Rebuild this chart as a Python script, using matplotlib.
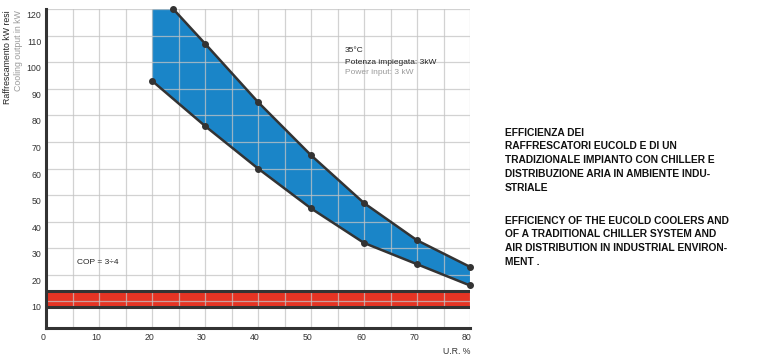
import numpy as np
import matplotlib
matplotlib.use("Agg")
import matplotlib.pyplot as plt
import matplotlib.transforms as mtransforms

# values
upper_x = [24, 30, 40, 50, 60, 70, 80]
upper_y = [120, 107, 85, 65, 47, 33, 23]
lower_x = [20, 30, 40, 50, 60, 70, 80]
lower_y = [93, 76, 60, 45, 32, 24, 16]
chiller_low = 8
chiller_high = 14
x_ticks = [0, 10, 20, 30, 40, 50, 60, 70, 80]
y_ticks = [10, 20, 30, 40, 50, 60, 70, 80, 90, 100, 110, 120]

dark = "#333333"
blue = "#1a85c8"
red = "#e53424"

plt.rcParams['font.family'] = ['Liberation Sans', 'DejaVu Sans']

fig = plt.figure(figsize=(7.61, 3.64), dpi=100)
ax = fig.add_axes([46 / 761, 1 - 328 / 364, 424 / 761, 319 / 364])
ax.set_xlim(0, 80)
ax.set_ylim(0, 120)

# blue band between the two curves, top clipped at the axis limit
poly_x = [lower_x[0]] + upper_x + lower_x[::-1]
poly_y = [upper_y[0]] + upper_y + lower_y[::-1]
ax.fill(poly_x, poly_y, color=blue, zorder=1, lw=0)
ax.plot(upper_x, upper_y, color=dark, lw=1.8, marker='o', ms=4, zorder=4, clip_on=False)
ax.plot(lower_x, lower_y, color=dark, lw=1.8, marker='o', ms=4, zorder=4, clip_on=False)

# red chiller band
ax.fill_between([0, 80], chiller_low, chiller_high, color=red, lw=0, zorder=1)
ax.hlines([chiller_low, chiller_high], 0, 80, color=dark, lw=2.2, zorder=4)

# grid drawn over the fills
for gx in np.arange(5, 81, 5):
    ax.axvline(gx, color="#c4c4c4", lw=0.9, alpha=0.75, zorder=2)
for gy in y_ticks:
    ax.axhline(gy, color="#c4c4c4", lw=0.9, alpha=0.75, zorder=2)

ax.set_xticks(x_ticks)
ax.set_yticks(y_ticks)
ax.tick_params(length=0, labelsize=6.3, colors="#333333", pad=3.5)
for lab in ax.get_yticklabels():
    lab.set_transform(lab.get_transform() + mtransforms.ScaledTranslation(0, -0.055, fig.dpi_scale_trans))
for lab in ax.get_xticklabels():
    lab.set_transform(lab.get_transform() + mtransforms.ScaledTranslation(-0.03, 0, fig.dpi_scale_trans))

for side in ['top', 'right']:
    ax.spines[side].set_visible(False)
for side in ['left', 'bottom']:
    ax.spines[side].set_color(dark)
    ax.spines[side].set_linewidth(2.2)
    ax.spines[side].set_zorder(5)

# annotations
fig.text(345 / 761, 1 - 50.5 / 364, "35°C", fontsize=6, color="#222222", va='center')
fig.text(345 / 761, 1 - 63 / 364, "Potenza impiegata: 3kW", fontsize=6, color="#222222", va='center')
fig.text(345 / 761, 1 - 73 / 364, "Power input: 3 kW", fontsize=6, color="#9a9a9a", va='center')
fig.text(77 / 761, 1 - 262 / 364, "COP = 3÷4", fontsize=6, color="#222222", va='center')
fig.text(470 / 761, 1 - 351 / 364, "U.R. %", fontsize=6.3, color="#333333", va='center', ha='right')

fig.text(8 / 761, 1 - 10 / 364, "Raffrescamento kW resi", fontsize=6.3, color="#222222",
         rotation=90, ha='center', va='top')
fig.text(18.5 / 761, 1 - 10 / 364, "Cooling output in kW", fontsize=6.3, color="#9a9a9a",
         rotation=90, ha='center', va='top')

block_it = ("EFFICIENZA DEI\n"
            "RAFFRESCATORI EUCOLD E DI UN\n"
            "TRADIZIONALE IMPIANTO CON CHILLER E\n"
            "DISTRIBUZIONE ARIA IN AMBIENTE INDU-\n"
            "STRIALE")
block_en = ("EFFICIENCY OF THE EUCOLD COOLERS AND\n"
            "OF A TRADITIONAL CHILLER SYSTEM AND\n"
            "AIR DISTRIBUTION IN INDUSTRIAL ENVIRON-\n"
            "MENT .")
for top, block in [(127.5, block_it), (215.5, block_en)]:
    fig.text(505 / 761, 1 - top / 364, block, fontsize=7.4, fontweight='bold',
             family=['Liberation Sans Narrow', 'Liberation Sans', 'DejaVu Sans'],
             color="#111111", va='top', ha='left', linespacing=1.48)

fig.savefig("out.png", dpi=100)
